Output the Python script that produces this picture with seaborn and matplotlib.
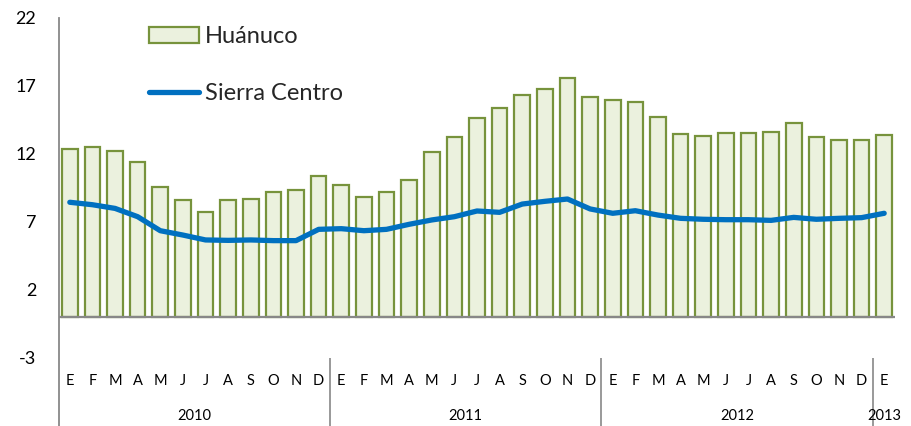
import numpy as np
import pandas as pd
import matplotlib
matplotlib.use("Agg")
import matplotlib.pyplot as plt
import seaborn as sns
from matplotlib.patches import Patch
from matplotlib.lines import Line2D

# ---- data ----
months = ['E', 'F', 'M', 'A', 'M', 'J', 'J', 'A', 'S', 'O', 'N', 'D'] * 3 + ['E']
years = ['2010', '2011', '2012', '2013']
huanuco = [12.4, 12.5, 12.2, 11.4, 9.55, 8.65, 7.75, 8.65, 8.7, 9.2, 9.35, 10.4,
           9.7, 8.85, 9.2, 10.1, 12.15, 13.25, 14.65, 15.4, 16.35, 16.8, 17.6, 16.2,
           16.0, 15.8, 14.7, 13.45, 13.35, 13.55, 13.55, 13.65, 14.25, 13.25, 13.0, 13.0,
           13.4]
sierra_centro = [8.45, 8.27, 8.0, 7.39, 6.36, 6.04, 5.68, 5.65, 5.68, 5.63, 5.63, 6.46,
                 6.51, 6.36, 6.46, 6.83, 7.15, 7.39, 7.81, 7.71, 8.32, 8.52, 8.69, 7.96,
                 7.64, 7.83, 7.51, 7.27, 7.2, 7.17, 7.17, 7.12, 7.34, 7.2, 7.27, 7.32,
                 7.64]
yticks = [-3, 2, 7, 12, 17, 22]

idx = list(range(len(huanuco)))
df = pd.DataFrame({"i": idx, "huanuco": huanuco, "sierra": sierra_centro})

sns.set_theme(style="white")
plt.rcParams['font.family'] = ['Lato', 'DejaVu Sans']

W, H = 912, 426
fig = plt.figure(figsize=(W / 100, H / 100), dpi=100)
left, right, top, bottom = 58.5, 895.5, 18, 426
ax = fig.add_axes([left / W, 1 - bottom / H, (right - left) / W, (bottom - top) / H])

bar_fill = '#EBF1DE'
bar_edge = '#77933C'
line_col = '#0070C0'
axis_col = '#888888'

sns.barplot(data=df, x="i", y="huanuco", color=bar_fill, saturation=1,
            edgecolor=bar_edge, linewidth=1.6, width=0.69, ax=ax)
sns.lineplot(data=df, x="i", y="sierra", color=line_col, linewidth=3.8,
             solid_capstyle='round', ax=ax)

ax.set_xlim(-0.5, len(idx) - 0.5)
ax.set_ylim(-8, 22)
ax.set_xlabel('')
ax.set_ylabel('')
ax.set_xticks([])
ax.set_yticks(yticks)
ax.set_yticklabels([str(t) for t in yticks])
ax.tick_params(axis='y', length=0, pad=16, labelsize=13, labelcolor='#000000')

for s in ['top', 'right', 'bottom']:
    ax.spines[s].set_visible(False)
ax.spines['left'].set_color(axis_col)
ax.spines['left'].set_linewidth(1.3)

ax.axhline(0, color=axis_col, linewidth=1.6, zorder=3)

# category labels
for i, m in enumerate(months):
    ax.text(i, -4.69, m, ha='center', va='center', fontsize=10.5, color='#000000')
year_centers = [5.5, 17.5, 29.5, 36]
for yc, yl in zip(year_centers, years):
    ax.text(yc, -7.26, yl, ha='center', va='center', fontsize=10.5, color='#000000')
ax.vlines([11.5, 23.5, 35.5, 36.5], -8, -3, colors=axis_col, linewidth=1.2)

handles = [Patch(facecolor=bar_fill, edgecolor=bar_edge, linewidth=1.6),
           Line2D([0], [0], color=line_col, linewidth=3.8, solid_capstyle='round')]
leg = ax.legend(handles, ['Huánuco', 'Sierra Centro'], loc='upper left',
                bbox_to_anchor=(140 / W, 1 - 17 / H), bbox_transform=fig.transFigure,
                frameon=False, fontsize=17, handlelength=2.1, handletextpad=0.25,
                labelspacing=1.5, borderaxespad=0)

fig.savefig("out.png", dpi=100)
